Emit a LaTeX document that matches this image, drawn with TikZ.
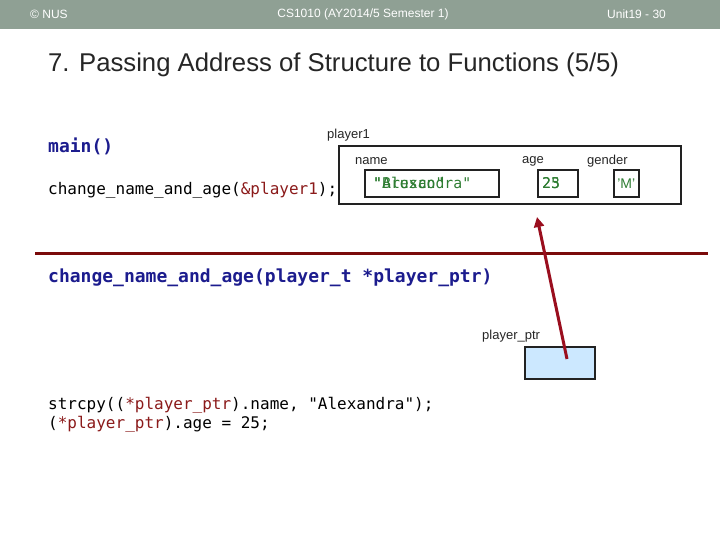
\documentclass[tikz,border=0pt]{standalone}
\usepackage{fontspec}
\setmainfont{Liberation Sans}
\setmonofont{DejaVu Sans Mono}
\usetikzlibrary{arrows.meta}
\definecolor{hdr}{HTML}{8FA094}
\definecolor{codeblue}{HTML}{1C1C8E}
\definecolor{codered}{HTML}{8B1A1A}
\definecolor{valgreen}{HTML}{2E7D32}
\definecolor{linered}{HTML}{7A0A0A}
\definecolor{arrred}{HTML}{9A0E1E}
\definecolor{ptrfill}{HTML}{CCE8FF}
\definecolor{boxline}{HTML}{222222}
\tikzset{
  hdrtext/.style={text=white, font=\fontsize{12}{14}\selectfont, inner sep=0pt},
  lbl/.style={anchor=west, inner sep=0pt, font=\fontsize{13}{15}\selectfont, text=black!85},
  code/.style={anchor=west, inner sep=0pt, font=\ttfamily\fontsize{16}{19}\selectfont},
  bcode/.style={anchor=west, inner sep=0pt, font=\ttfamily\bfseries\fontsize{18}{21}\selectfont, text=codeblue},
  membox/.style={draw=boxline, line width=1.6pt, inner sep=0pt},
  val/.style={inner sep=0pt, font=\ttfamily\fontsize{14.8}{17}\selectfont, text=valgreen},
}
\begin{document}
\begin{tikzpicture}[x=1pt,y=-1pt]
\useasboundingbox (0,0) rectangle (720,540);
\fill[white] (0,0) rectangle (720,540);
% header
\fill[hdr] (0,0) rectangle (720,29);
\node[hdrtext, anchor=west] (copy) at (30,14) {© NUS};
\node[hdrtext] (course) at (363,14) {CS1010 (AY2014/5 Semester 1)};
\node[hdrtext, anchor=west] (unit) at (607,14) {Unit19 - 30};
% title
\node[anchor=west, inner sep=0pt, font=\fontsize{25.7}{30}\selectfont, text=black!85] (title) at (48,65) {7. Passing Address of Structure to Functions (5/5)};
% main
\node[bcode] (main) at (48,146) {main()};
\node[code] (call) at (48,190) {change\_name\_and\_age(\textcolor{codered}{\&player1});};
% struct
\node[lbl] (p1lbl) at (327,135) {player1};
\node[membox, minimum width=342pt, minimum height=58pt, anchor=north west] (outer) at (338,145) {};
\node[lbl] (namelbl) at (355,161) {name};
\node[lbl] (agelbl) at (522,161) {age};
\node[lbl] (genlbl) at (587,161) {gender};
\node[membox, minimum width=134pt, minimum height=27pt, anchor=north west] (namebox) at (364,169) {};
\node[membox, minimum width=40pt, minimum height=27pt, anchor=north west] (agebox) at (537,169) {};
\node[membox, minimum width=25pt, minimum height=27pt, anchor=north west] (genbox) at (613,169) {};
\node[val, anchor=west] (nameold) at (373,183) {"Brusco"};
\node[val, anchor=west] (namenew) at (373,183) {"Alexandra"};
\node[val, anchor=west] (ageold) at (542,183) {23};
\node[val, anchor=west] (agenew) at (542,183) {25};
\node[inner sep=0pt, font=\fontsize{14}{16}\selectfont, text=valgreen] (genval) at (genbox.center) {'M'};
% divider
\coordinate (divl) at (35,253);
\coordinate (divr) at (708,253);
\draw[linered, line width=3pt] (divl) -- (divr);
% function
\node[bcode] (func) at (48,278) {change\_name\_and\_age(player\_t *player\_ptr)};
\node[lbl] (ptrlbl) at (482,336) {player\_ptr};
\node[draw=boxline, line width=1.6pt, fill=ptrfill, minimum width=70pt, minimum height=32pt, anchor=north west, inner sep=0pt] (ptrbox) at (524,346) {};
\coordinate (ptrstart) at (567,359);
\coordinate (tip) at (537,217);
\draw[arrred, line width=3pt, -{Triangle[length=10pt,width=10pt]}] (ptrstart) -- (tip);
% code
\node[code] (l1) at (48,405) {strcpy((\textcolor{codered}{*player\_ptr}).name, "Alexandra");};
\node[code] (l2) at (48,424) {(\textcolor{codered}{*player\_ptr}).age = 25;};
\end{tikzpicture}
\end{document}
